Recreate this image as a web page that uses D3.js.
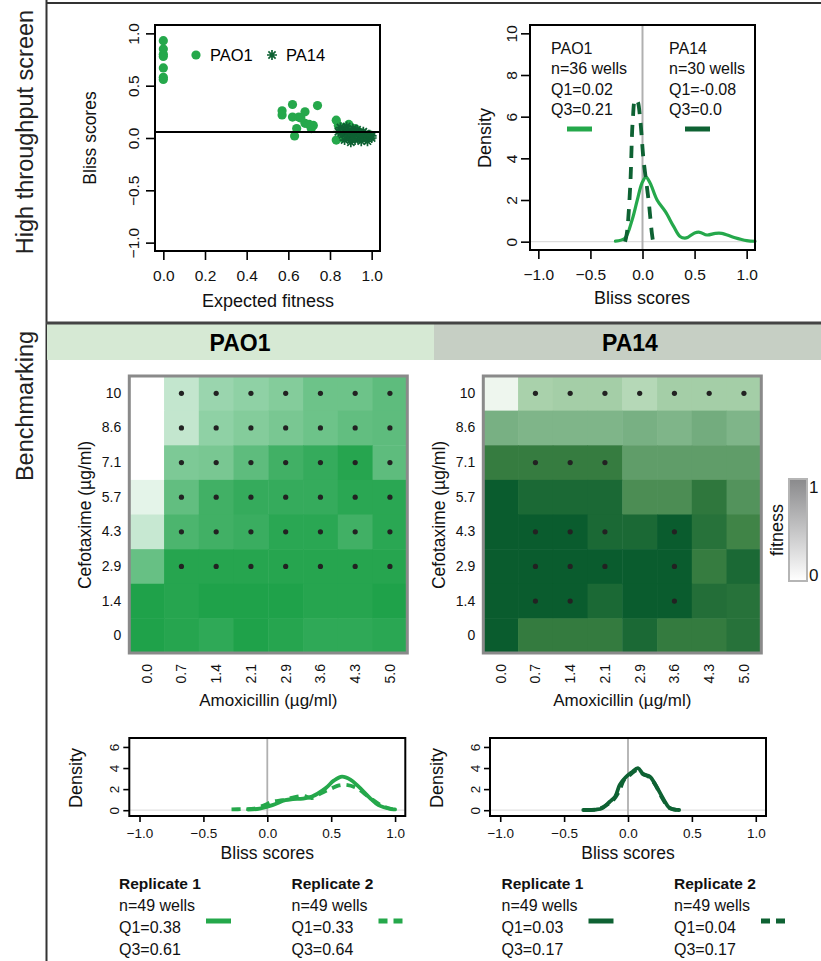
<!DOCTYPE html>
<html>
<head>
<meta charset="utf-8">
<script src="https://cdn.jsdelivr.net/npm/d3@7"></script>
<style>
  body { margin: 0; background: #fff; }
  svg { font-family: "Liberation Sans", Arial, sans-serif; }
</style>
</head>
<body>
<svg id="fig" width="821" height="961"></svg>
<script>
// ---- dados ----
const corClaro = "#25a84b";
const corEscuro = "#0e6233";

// screen: expected fitness x bliss
const expPAO1 = [0, 0, 0, 0, 0, 0, 0,
  0.57, 0.57, 0.62, 0.62, 0.65, 0.68, 0.64, 0.63, 0.68, 0.71, 0.72, 0.74, 0.66, 0.70,
  0.83, 0.84, 0.83, 0.85, 0.86, 0.87, 0.88, 0.90, 0.92, 0.89, 0.95, 0.97, 0.99, 0.86, 0.93];
const blissPAO1 = [0.93, 0.85, 0.80, 0.78, 0.67, 0.58, 0.56,
  0.26, 0.22, 0.32, 0.20, 0.20, 0.25, 0.09, 0.02, 0.14, 0.09, 0.12, 0.31, 0.19, 0.13,
  0.17, 0.12, -0.02, 0.08, 0.04, 0.10, 0.06, 0.02, 0.09, 0.13, 0.05, 0.01, 0.03, 0.00, 0.07];
const expPA14 = [0.84, 0.85, 0.86, 0.87, 0.87, 0.88, 0.88, 0.89, 0.89, 0.90, 0.90, 0.91, 0.91, 0.92, 0.92,
  0.93, 0.93, 0.94, 0.94, 0.95, 0.95, 0.96, 0.96, 0.97, 0.97, 0.98, 0.98, 0.99, 1.0, 1.0];
const blissPA14 = [0.06, 0.10, 0.03, 0.08, -0.02, 0.05, 0.11, 0.01, 0.07, 0.04, -0.04, 0.09, 0.02, 0.06, -0.02,
  0.03, 0.08, 0.00, 0.05, -0.03, 0.02, 0.06, 0.01, -0.01, 0.04, 0.02, -0.03, 0.03, 0.00, 0.02];
const limiarBliss = 0.058;

// screen: densidades
const densTopoPAO1 = [[-0.26, 0.03], [-0.17, 0.16], [-0.10, 1.04], [-0.05, 2.0], [-0.006, 2.8], [0.033, 3.1],
  [0.074, 2.8], [0.14, 2.0], [0.22, 1.44], [0.30, 0.72], [0.36, 0.25], [0.42, 0.18], [0.5, 0.42], [0.55, 0.45],
  [0.62, 0.32], [0.7, 0.4], [0.76, 0.4], [0.88, 0.2], [1.0, 0.05], [1.08, 0.02]];
const densTopoPA14 = [[-0.167, 0], [-0.15, 0.4], [-0.118, 2.65], [-0.093, 5.86], [-0.07, 6.82], [-0.048, 6.74],
  [-0.022, 5.86], [0.01, 3.93], [0.058, 2.0], [0.09, 0.4], [0.10, 0.05]];

// benchmarking
const amoxicilina = ["0.0", "0.7", "1.4", "2.1", "2.9", "3.6", "4.3", "5.0"];
const cefotaxima = ["10", "8.6", "7.1", "5.7", "4.3", "2.9", "1.4", "0"];

const fitnessPAO1 = [
  [0, 0.27, 0.45, 0.5, 0.55, 0.65, 0.65, 0.72],
  [0, 0.27, 0.5, 0.55, 0.6, 0.65, 0.7, 0.72],
  [0, 0.58, 0.6, 0.72, 0.85, 0.9, 0.97, 0.72],
  [0.12, 0.7, 0.85, 0.9, 0.9, 0.9, 0.95, 0.95],
  [0.25, 0.8, 0.85, 0.88, 0.95, 0.95, 0.85, 0.95],
  [0.68, 0.97, 0.97, 0.97, 0.97, 0.97, 0.97, 0.97],
  [1.0, 0.97, 1.0, 1.0, 1.0, 0.97, 0.97, 1.0],
  [1.0, 0.97, 0.93, 1.0, 0.97, 0.93, 0.93, 0.95],
];
const sinergiaPAO1 = [
  [0, 1, 1, 1, 1, 1, 1, 1],
  [0, 1, 1, 1, 1, 1, 1, 1],
  [0, 1, 1, 1, 1, 1, 1, 1],
  [0, 1, 1, 1, 1, 1, 1, 1],
  [0, 1, 1, 1, 1, 1, 1, 1],
  [0, 1, 1, 1, 1, 1, 1, 1],
  [0, 0, 0, 0, 0, 0, 0, 0],
  [0, 0, 0, 0, 0, 0, 0, 0],
];
const fitnessPA14 = [
  [0.07, 0.35, 0.37, 0.37, 0.3, 0.37, 0.37, 0.37],
  [0.55, 0.52, 0.52, 0.52, 0.55, 0.52, 0.57, 0.52],
  [0.82, 0.82, 0.82, 0.82, 0.65, 0.65, 0.65, 0.65],
  [1.0, 0.93, 0.93, 0.93, 0.73, 0.73, 0.85, 0.7],
  [1.0, 1.0, 1.0, 0.93, 0.93, 1.0, 0.88, 0.78],
  [1.0, 1.0, 1.0, 1.0, 1.0, 1.0, 0.82, 0.93],
  [1.0, 1.0, 1.0, 0.93, 1.0, 1.0, 0.9, 0.88],
  [1.0, 0.83, 0.83, 0.83, 0.93, 0.83, 0.83, 0.88],
];
const sinergiaPA14 = [
  [0, 1, 1, 1, 1, 1, 1, 1],
  [0, 0, 0, 0, 0, 0, 0, 0],
  [0, 1, 1, 1, 0, 0, 0, 0],
  [0, 0, 0, 0, 0, 0, 0, 0],
  [0, 1, 1, 1, 0, 1, 0, 0],
  [0, 1, 1, 1, 0, 1, 0, 0],
  [0, 1, 1, 0, 0, 1, 0, 0],
  [0, 0, 0, 0, 0, 0, 0, 0],
];

// replicatas
const densPAO1Rep1 = [[-0.15, 0.05], [-0.06, 0.16], [0.04, 0.48], [0.14, 0.95], [0.2, 1.05], [0.28, 1.1],
  [0.35, 1.3], [0.455, 2.07], [0.52, 2.8], [0.585, 3.19], [0.65, 2.9], [0.715, 2.23], [0.8, 1.2],
  [0.87, 0.48], [0.975, 0.1], [1.0, 0.07]];
const densPAO1Rep2 = [[-0.28, 0.08], [-0.2, 0.1], [-0.1, 0.15], [-0.02, 0.5], [0.04, 0.8], [0.12, 0.95],
  [0.2, 1.2], [0.28, 1.35], [0.35, 1.15], [0.42, 1.6], [0.5, 2.05], [0.56, 2.35], [0.62, 2.4],
  [0.7, 2.1], [0.8, 1.2], [0.9, 0.4], [0.98, 0.08]];
const densPA14Rep1 = [[-0.35, 0.02], [-0.25, 0.06], [-0.2, 0.2], [-0.143, 0.8], [-0.1, 1.3], [-0.065, 2.4],
  [-0.02, 3.1], [0.03, 3.6], [0.078, 4.0], [0.12, 3.4], [0.17, 3.2], [0.22, 2.3], [0.28, 1.0],
  [0.326, 0.2], [0.4, 0.02]];
const densPA14Rep2 = [[-0.33, 0.02], [-0.24, 0.08], [-0.18, 0.4], [-0.12, 0.9], [-0.07, 1.8], [-0.03, 2.9],
  [0.02, 3.4], [0.07, 3.8], [0.11, 3.5], [0.16, 3.2], [0.21, 2.5], [0.27, 1.1], [0.32, 0.25], [0.38, 0.03]];

const legendaTopo = [
  { nome: "PAO1", n: "n=36 wells", q1: "Q1=0.02", q3: "Q3=0.21", cor: corClaro },
  { nome: "PA14", n: "n=30 wells", q1: "Q1=-0.08", q3: "Q3=0.0", cor: corEscuro },
];
const legendaRepPAO1 = [
  { nome: "Replicate 1", n: "n=49 wells", q1: "Q1=0.38", q3: "Q3=0.61", tracejado: false },
  { nome: "Replicate 2", n: "n=49 wells", q1: "Q1=0.33", q3: "Q3=0.64", tracejado: true },
];
const legendaRepPA14 = [
  { nome: "Replicate 1", n: "n=49 wells", q1: "Q1=0.03", q3: "Q3=0.17", tracejado: false },
  { nome: "Replicate 2", n: "n=49 wells", q1: "Q1=0.04", q3: "Q3=0.17", tracejado: true },
];

// rampas de cor dos heatmaps
const rampaPAO1 = { dominio: [0, 1], cores: ["#ffffff", "#1fa24a"] };
const rampaPA14 = { dominio: [0, 0.35, 0.55, 0.8, 1], cores: ["#ffffff", "#a9d1ab", "#78b083", "#3b8042", "#0a5c2e"] };

const svg = d3.select("#fig");

// ---- molduras e titulos laterais ----
svg.append("line").attr("x1", 46).attr("x2", 821).attr("y1", 3).attr("y2", 3)
  .attr("stroke", "#333").attr("stroke-width", 2);
svg.append("line").attr("x1", 46.5).attr("x2", 46.5).attr("y1", 0).attr("y2", 961)
  .attr("stroke", "#333").attr("stroke-width", 2);

svg.append("rect").attr("x", 47).attr("y", 324).attr("width", 387).attr("height", 36).attr("fill", "#d6e9d4");
svg.append("rect").attr("x", 434).attr("y", 324).attr("width", 387).attr("height", 36).attr("fill", "#c6cfc4");
svg.append("line").attr("x1", 46).attr("x2", 821).attr("y1", 323).attr("y2", 323)
  .attr("stroke", "#444").attr("stroke-width", 3);
svg.append("text").attr("x", 240).attr("y", 351).attr("text-anchor", "middle")
  .attr("font-size", 23).attr("font-weight", "bold").text("PAO1");
svg.append("text").attr("x", 630).attr("y", 351).attr("text-anchor", "middle")
  .attr("font-size", 23).attr("font-weight", "bold").text("PA14");

svg.append("text").attr("transform", "translate(33,132) rotate(-90)").attr("text-anchor", "middle")
  .attr("font-size", 23.5).attr("fill", "#222").text("High throughput screen");
svg.append("text").attr("transform", "translate(33,406) rotate(-90)").attr("text-anchor", "middle")
  .attr("font-size", 23.5).attr("fill", "#222").text("Benchmarking");

// ---- helpers ----
const eixoX = (g, x, y, ticks, fmt, tam, fonte, pad) => {
  const ax = g.append("g").attr("transform", `translate(0,${y})`)
    .call(d3.axisBottom(x).tickValues(ticks).tickFormat(fmt).tickSize(tam).tickSizeOuter(0).tickPadding(pad));
  ax.select(".domain").remove();
  ax.selectAll("line").attr("stroke", "#000").attr("stroke-width", 1.6);
  ax.selectAll("text").attr("font-size", fonte).attr("fill", "#111").attr("font-family", null);
};

const eixoY = (g, yScale, x, ticks, fmt, tam, fonte, desloc) => {
  const ax = g.append("g").attr("transform", `translate(${x},0)`)
    .call(d3.axisLeft(yScale).tickValues(ticks).tickFormat(fmt).tickSize(tam).tickSizeOuter(0));
  ax.select(".domain").remove();
  ax.selectAll("line").attr("stroke", "#000").attr("stroke-width", 1.6);
  ax.selectAll("text").attr("font-size", fonte).attr("fill", "#111").attr("font-family", null)
    .attr("transform", "rotate(-90)").attr("x", 0).attr("y", -desloc).attr("dy", 0)
    .attr("text-anchor", "middle");
};

const caixa = (g, x, y) => {
  g.append("rect").attr("x", x.range()[0]).attr("y", y.range()[1])
    .attr("width", x.range()[1] - x.range()[0]).attr("height", y.range()[0] - y.range()[1])
    .attr("fill", "none").attr("stroke", "#000").attr("stroke-width", 2);
};

const estrela = (g, cx, cy, r, cor) => {
  const d = r * 0.72;
  g.append("path")
    .attr("d", `M${cx - r},${cy}L${cx + r},${cy}M${cx},${cy - r}L${cx},${cy + r}` +
      `M${cx - d},${cy - d}L${cx + d},${cy + d}M${cx - d},${cy + d}L${cx + d},${cy - d}`)
    .attr("stroke", cor).attr("stroke-width", 1.7).attr("fill", "none");
};

// ---- scatter ----
const exibirDispersao = () => {
  const g = svg.append("g");
  const x = d3.scaleLinear().domain([-0.04, 1.04]).range([155, 380]);
  const y = d3.scaleLinear().domain([-1.08, 1.08]).range([251, 25]);

  g.selectAll(".pao1").data(expPAO1).enter().append("circle")
    .attr("cx", (d) => x(d)).attr("cy", (d, i) => y(blissPAO1[i])).attr("r", 4.6).attr("fill", corClaro);
  expPA14.forEach((d, i) => estrela(g, x(d), y(blissPA14[i]), 5, corEscuro));

  g.append("line").attr("x1", x.range()[0]).attr("x2", x.range()[1])
    .attr("y1", y(limiarBliss)).attr("y2", y(limiarBliss)).attr("stroke", "#000").attr("stroke-width", 2);

  caixa(g, x, y);
  eixoX(g, x, 251, [0, 0.2, 0.4, 0.6, 0.8, 1.0], d3.format(".1f"), 9, 15.5, 10);
  eixoY(g, y, 155, [-1, -0.5, 0, 0.5, 1], d3.format(".1f"), 9, 15.5, 16);

  g.append("text").attr("x", 268).attr("y", 307).attr("text-anchor", "middle").attr("font-size", 18)
    .attr("fill", "#111").text("Expected fitness");
  g.append("text").attr("transform", "translate(96,138) rotate(-90)").attr("text-anchor", "middle")
    .attr("font-size", 17.5).attr("fill", "#111").text("Bliss scores");

  g.append("circle").attr("cx", 196).attr("cy", 55).attr("r", 4.6).attr("fill", corClaro);
  g.append("text").attr("x", 210).attr("y", 61).attr("font-size", 16.5).text("PAO1");
  estrela(g, 272, 55, 5, corEscuro);
  g.append("text").attr("x", 286).attr("y", 61).attr("font-size", 16.5).text("PA14");
};

// ---- densidade topo ----
const exibirDensidadeTopo = () => {
  const g = svg.append("g");
  const x = d3.scaleLinear().domain([-1.08, 1.08]).range([530, 755]);
  const y = d3.scaleLinear().domain([-0.4, 10.4]).range([250, 25]);
  const linha = d3.line().x((d) => x(d[0])).y((d) => y(d[1])).curve(d3.curveCatmullRom);

  g.append("line").attr("x1", x.range()[0]).attr("x2", x.range()[1]).attr("y1", y(0)).attr("y2", y(0))
    .attr("stroke", "#ddd").attr("stroke-width", 1.2);
  g.append("line").attr("x1", x(0)).attr("x2", x(0)).attr("y1", y.range()[0]).attr("y2", y.range()[1])
    .attr("stroke", "#b0b0b0").attr("stroke-width", 2);

  g.append("path").attr("d", linha(densTopoPAO1)).attr("fill", "none").attr("stroke", corClaro)
    .attr("stroke-width", 3.2).attr("stroke-linecap", "round");
  g.append("path").attr("d", linha(densTopoPA14)).attr("fill", "none").attr("stroke", corEscuro)
    .attr("stroke-width", 3.8).attr("stroke-dasharray", "12,9");

  caixa(g, x, y);
  eixoX(g, x, 250, [-1, -0.5, 0, 0.5, 1], (d) => d3.format(".1f")(d).replace("-", "\u2212"), 9, 15.5, 10);
  eixoY(g, y, 530, [0, 2, 4, 6, 8, 10], d3.format("d"), 9, 15.5, 13);

  g.append("text").attr("x", 642).attr("y", 304).attr("text-anchor", "middle").attr("font-size", 18)
    .attr("fill", "#111").text("Bliss scores");
  g.append("text").attr("transform", "translate(491,138) rotate(-90)").attr("text-anchor", "middle")
    .attr("font-size", 18).attr("fill", "#111").text("Density");

  legendaTopo.forEach((l, i) => {
    const lx = 551 + i * 118;
    [l.nome, l.n, l.q1, l.q3].forEach((t, j) => {
      g.append("text").attr("x", lx).attr("y", 53.5 + j * 20.5).attr("font-size", 16).attr("fill", "#111").text(t);
    });
    g.append("line").attr("x1", lx + 16).attr("x2", lx + 41).attr("y1", 129).attr("y2", 129)
      .attr("stroke", l.cor).attr("stroke-width", 5);
  });
};

// ---- heatmaps ----
const exibirMapa = (x0, fitness, sinergia, rampa) => {
  const g = svg.append("g");
  const x = d3.scaleBand().domain(amoxicilina).range([x0, x0 + 278]);
  const y = d3.scaleBand().domain(cefotaxima).range([376, 653]);
  const cor = d3.scaleLinear().domain(rampa.dominio).range(rampa.cores).interpolate(d3.interpolateRgb);

  const celulas = [];
  cefotaxima.forEach((c, i) => amoxicilina.forEach((a, j) => {
    celulas.push({ c, a, f: fitness[i][j], s: sinergia[i][j] });
  }));

  g.selectAll("rect.cel").data(celulas).enter().append("rect")
    .attr("x", (d) => x(d.a)).attr("y", (d) => y(d.c))
    .attr("width", x.bandwidth() + 0.5).attr("height", y.bandwidth() + 0.5)
    .attr("fill", (d) => cor(d.f));

  g.selectAll("circle").data(celulas.filter((d) => d.s)).enter().append("circle")
    .attr("cx", (d) => x(d.a) + x.bandwidth() / 2).attr("cy", (d) => y(d.c) + y.bandwidth() / 2)
    .attr("r", 2.6).attr("fill", "#222");

  g.append("rect").attr("x", x0).attr("y", 376).attr("width", 278).attr("height", 277)
    .attr("fill", "none").attr("stroke", "#8a8a8a").attr("stroke-width", 3);

  const ay = g.append("g").attr("transform", `translate(${x0 - 2},0)`)
    .call(d3.axisLeft(y).tickSize(0).tickPadding(6));
  ay.select(".domain").remove();
  ay.selectAll("text").attr("font-size", 14).attr("fill", "#111").attr("font-family", null);

  const ax = g.append("g").attr("transform", "translate(0,655)")
    .call(d3.axisBottom(x).tickSize(0).tickPadding(0));
  ax.select(".domain").remove();
  ax.selectAll("text").attr("font-size", 14).attr("fill", "#111").attr("font-family", null)
    .attr("transform", "rotate(-90)").attr("x", -9).attr("y", 0).attr("dy", "0.35em")
    .attr("text-anchor", "end");

  g.append("text").attr("x", x0 + 139).attr("y", 706).attr("text-anchor", "middle").attr("font-size", 17)
    .attr("fill", "#111").text("Amoxicillin (\u00b5g/ml)");
  g.append("text").attr("transform", `translate(${x0 - 38},515) rotate(-90)`).attr("text-anchor", "middle")
    .attr("font-size", 17.5).attr("fill", "#111").text("Cefotaxime (\u00b5g/ml)");
};

const exibirEscalaFitness = () => {
  const defs = svg.append("defs");
  const grad = defs.append("linearGradient").attr("id", "gradFit")
    .attr("x1", 0).attr("x2", 0).attr("y1", 1).attr("y2", 0);
  grad.append("stop").attr("offset", "0%").attr("stop-color", "#ffffff");
  grad.append("stop").attr("offset", "100%").attr("stop-color", "#8a8a8c");

  const y = d3.scaleLinear().domain([0, 1]).range([575, 487]);
  svg.append("rect").attr("x", 789).attr("y", 479).attr("width", 18).attr("height", 102)
    .attr("fill", "url(#gradFit)").attr("stroke", "#b5b5b5").attr("stroke-width", 2);
  [0, 1].forEach((v) => {
    svg.append("text").attr("x", 809).attr("y", y(v) + 6).attr("font-size", 17).attr("fill", "#111").text(v);
  });
  svg.append("text").attr("transform", "translate(783,530) rotate(-90)").attr("text-anchor", "middle")
    .attr("font-size", 18).attr("fill", "#111").text("fitness");
};

// ---- densidades das replicatas ----
const exibirDensidadeRep = (x0, rep1, rep2, cor, legenda, legX) => {
  const g = svg.append("g");
  const x = d3.scaleLinear().domain([-1.08, 1.08]).range([x0, x0 + 276]);
  const y = d3.scaleLinear().domain([-0.55, 6.85]).range([816, 738]);
  const linha = d3.line().x((d) => x(d[0])).y((d) => y(d[1])).curve(d3.curveCatmullRom);

  g.append("line").attr("x1", x.range()[0]).attr("x2", x.range()[1]).attr("y1", y(0)).attr("y2", y(0))
    .attr("stroke", "#e2e2e2").attr("stroke-width", 1.2);
  g.append("line").attr("x1", x(0)).attr("x2", x(0)).attr("y1", y.range()[0]).attr("y2", y.range()[1])
    .attr("stroke", "#b0b0b0").attr("stroke-width", 1.8);

  g.append("path").attr("d", linha(rep1)).attr("fill", "none").attr("stroke", cor)
    .attr("stroke-width", 3.8).attr("stroke-linecap", "round");
  g.append("path").attr("d", linha(rep2)).attr("fill", "none").attr("stroke", cor)
    .attr("stroke-width", 3.8).attr("stroke-dasharray", "9,6");

  caixa(g, x, y);
  eixoX(g, x, 816, [-1, -0.5, 0, 0.5, 1], (d) => d3.format(".1f")(d).replace("-", "\u2212"), 6, 13.5, 6);
  eixoY(g, y, x0, [0, 2, 4, 6], d3.format("d"), 6, 13.5, 10);

  g.append("text").attr("x", x(0)).attr("y", 859).attr("text-anchor", "middle").attr("font-size", 17.5)
    .attr("fill", "#111").text("Bliss scores");
  g.append("text").attr("transform", `translate(${x0 - 47},778) rotate(-90)`).attr("text-anchor", "middle")
    .attr("font-size", 18).attr("fill", "#111").text("Density");

  legenda.forEach((l, i) => {
    const lx = legX + i * 172.5;
    [l.nome, l.n, l.q1, l.q3].forEach((t, j) => {
      g.append("text").attr("x", lx).attr("y", 889 + j * 22).attr("font-size", j === 0 ? 15.5 : 16)
        .attr("font-weight", j === 0 ? "bold" : null).attr("fill", "#111").text(t);
    });
    g.append("line").attr("x1", lx + 87).attr("x2", lx + 112).attr("y1", 921).attr("y2", 921)
      .attr("stroke", cor).attr("stroke-width", 5)
      .attr("stroke-dasharray", l.tracejado ? "9,6" : null);
  });
};

exibirDispersao();
exibirDensidadeTopo();
exibirMapa(129.3, fitnessPAO1, sinergiaPAO1, rampaPAO1);
exibirMapa(483.3, fitnessPA14, sinergiaPA14, rampaPA14);
exibirEscalaFitness();
exibirDensidadeRep(129.3, densPAO1Rep1, densPAO1Rep2, corClaro, legendaRepPAO1, 119);
exibirDensidadeRep(490, densPA14Rep1, densPA14Rep2, corEscuro, legendaRepPA14, 501.5);
</script>
</body>
</html>
